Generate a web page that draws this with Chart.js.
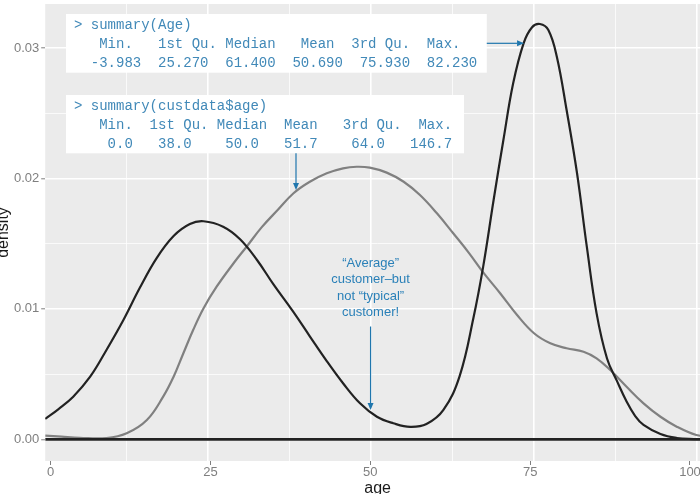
<!DOCTYPE html>
<html><head><meta charset="utf-8">
<script src="https://cdn.jsdelivr.net/npm/chart.js@4/dist/chart.umd.min.js"></script>
<style>
html,body{margin:0;padding:0;background:#fff;overflow:hidden;width:700px;height:494px;position:relative;}
#wrap{position:absolute;left:-10px;top:0;width:720px;height:498px;}
</style></head><body>
<div id="wrap"><canvas id="c" width="720" height="498"></canvas></div>
<script>
// ---- data ----
const ageX = [0, 2, 4.3, 6.9, 9.4, 12.0, 14.5, 17.1, 19.7, 22.2, 24.3, 27.3, 29.9, 32.5, 35.0, 38.1, 40.6, 43.2, 45.7, 48.3, 50.9, 53.4, 56.0, 58.5, 61.1, 63.6, 65.7, 67.2, 68.8, 70.3, 71.8, 73.4, 74.7, 75.9, 77.2, 78.5, 80.0, 81.6, 83.1, 84.6, 86.2, 87.7, 89.2, 90.5, 91.8, 94.4, 96.9, 99.5, 102];
const ageDensity = [0.00156, 0.0023, 0.00327, 0.0048, 0.00685, 0.00915, 0.0116, 0.0139, 0.01559, 0.01651, 0.01672, 0.0163, 0.01534, 0.01375, 0.0119, 0.00975, 0.0079, 0.006, 0.0043, 0.00276, 0.00173, 0.00123, 0.00095, 0.00117, 0.00225, 0.00487, 0.0093, 0.01324, 0.01835, 0.02295, 0.0273, 0.03037, 0.0316, 0.03185, 0.03139, 0.02934, 0.02525, 0.0204, 0.01477, 0.00966, 0.0062, 0.0045, 0.0029, 0.0018, 0.0011, 0.0004, 0.0001, 0.00002, 0];
const custX = [0, 2.5, 5.3, 9.4, 12.5, 15.6, 18.1, 19.7, 21.2, 22.7, 24.3, 26.3, 28.9, 30.9, 33.2, 35.7, 38.1, 40.6, 43.2, 45.7, 47.8, 49.8, 52.4, 55.0, 57.5, 60.1, 62.6, 65.0, 67.2, 69.8, 72.4, 75.0, 77.5, 80.0, 82.6, 84.6, 86.7, 89.2, 91.8, 94.4, 96.9, 99.9, 102];
const custDensity = [0.00028, 0.0002, 0.00012, 0.0001, 0.00046, 0.00148, 0.00327, 0.0048, 0.0066, 0.00838, 0.01005, 0.0117, 0.0135, 0.01477, 0.01625, 0.0176, 0.01887, 0.01975, 0.0204, 0.02078, 0.0209, 0.02083, 0.02045, 0.01975, 0.01873, 0.01733, 0.0158, 0.0143, 0.0128, 0.0112, 0.00953, 0.00813, 0.00736, 0.00698, 0.00672, 0.00621, 0.00531, 0.00403, 0.00276, 0.00173, 0.00097, 0.00033, 0.0002];
const xTickValues = [0, 25, 50, 75, 100];
const xTickLabels = ['0', '25', '50', '75', '100'];
const yTickValues = [0, 0.01, 0.02, 0.03];
const yTickLabels = ['0.00', '0.01', '0.02', '0.03'];
const summaryAgeLines = [
  '> summary(Age)',
  '   Min.   1st Qu. Median   Mean  3rd Qu.  Max.',
  '  -3.983  25.270  61.400  50.690  75.930  82.230'
];
const summaryCustLines = [
  '> summary(custdata$age)',
  '   Min.  1st Qu. Median  Mean   3rd Qu.  Max.',
  '    0.0   38.0    50.0   51.7    64.0   146.7'
];
const calloutLines = ['\u201CAverage\u201D', 'customer\u2013but', 'not \u201Ctypical\u201D', 'customer!'];

// ---- axis ranges ----
const xMin = 0, xMax = 102;
const xLabelMin = -0.86, xLabelMax = 103.13;
const yMin = -0.001664, yMax = 0.033382;

const midpoints = a => a.slice(0, -1).map((v, i) => (v + a[i + 1]) / 2);
const xGridValues = [...xTickValues, ...midpoints(xTickValues)].filter(v => v > xMin && v < xMax).sort((a, b) => a - b);
const yGridValues = [...yTickValues, ...midpoints(yTickValues)].filter(v => v > yMin && v < yMax).sort((a, b) => a - b);
const isMajor = (v, arr) => arr.some(t => Math.abs(t - v) < 1e-9);

const CODE = '#4189b8', NOTE = '#2a80b8', ARROW = '#1f76ad';

const annotations = {
  boxes: [
    { x0: 3.19, x1: 67.75, yTop: 0.032615, yBottom: 0.028113, textX: 4.42, baselines: [0.031449, 0.030023, 0.028589], lines: summaryAgeLines },
    { x0: 3.19, x1: 64.26, yTop: 0.026403, yBottom: 0.021933, textX: 4.42, baselines: [0.025238, 0.023811, 0.022377], lines: summaryCustLines }
  ],
  arrows: [
    { from: [67.75, 0.030368], to: [73.47, 0.030368] },
    { from: [38.48, 0.021933], to: [38.48, 0.019118] },
    { from: [49.92, 0.00865], to: [49.92, 0.002247] }
  ],
  callout: { x: 49.92, middles: [0.013497, 0.01227, 0.010989, 0.009762] }
};

const panelPlugin = {
  id: 'panel',
  beforeDraw(chart) {
    const { ctx, chartArea: a } = chart;
    ctx.save();
    ctx.fillStyle = '#ffffff';
    ctx.fillRect(0, 0, chart.width, chart.height);
    ctx.fillStyle = '#ebebeb';
    ctx.fillRect(a.left, a.top, a.right - a.left, a.bottom - a.top);
    ctx.restore();
  }
};

function arrow(ctx, x1, y1, x2, y2) {
  const ang = Math.atan2(y2 - y1, x2 - x1);
  const L = 7, W = 3;
  ctx.beginPath();
  ctx.moveTo(x1, y1);
  ctx.lineTo(x2 - L * Math.cos(ang), y2 - L * Math.sin(ang));
  ctx.stroke();
  ctx.beginPath();
  ctx.moveTo(x2, y2);
  ctx.lineTo(x2 - L * Math.cos(ang) - W * Math.sin(ang), y2 - L * Math.sin(ang) + W * Math.cos(ang));
  ctx.lineTo(x2 - L * Math.cos(ang) + W * Math.sin(ang), y2 - L * Math.sin(ang) - W * Math.cos(ang));
  ctx.closePath();
  ctx.fill();
}

const annotPlugin = {
  id: 'annot',
  afterDatasetsDraw(chart) {
    const { ctx } = chart;
    const x = chart.scales.x, y = chart.scales.y;
    ctx.save();
    for (const b of annotations.boxes) {
      const px0 = x.getPixelForValue(b.x0), px1 = x.getPixelForValue(b.x1);
      const py0 = y.getPixelForValue(b.yTop), py1 = y.getPixelForValue(b.yBottom);
      ctx.fillStyle = '#ffffff';
      ctx.fillRect(px0, py0, px1 - px0, py1 - py0);
      ctx.fillStyle = CODE;
      ctx.font = "14px 'Liberation Mono', 'DejaVu Sans Mono', monospace";
      ctx.textAlign = 'left';
      ctx.textBaseline = 'alphabetic';
      b.lines.forEach((t, i) => ctx.fillText(t, x.getPixelForValue(b.textX), y.getPixelForValue(b.baselines[i])));
    }
    ctx.strokeStyle = ARROW;
    ctx.fillStyle = ARROW;
    ctx.lineWidth = 1.2;
    for (const a of annotations.arrows) {
      arrow(ctx, x.getPixelForValue(a.from[0]), y.getPixelForValue(a.from[1]), x.getPixelForValue(a.to[0]), y.getPixelForValue(a.to[1]));
    }
    ctx.fillStyle = NOTE;
    ctx.font = "13px 'Liberation Sans', Arial, sans-serif";
    ctx.textAlign = 'center';
    ctx.textBaseline = 'middle';
    const c = annotations.callout;
    calloutLines.forEach((t, i) => ctx.fillText(t, x.getPixelForValue(c.x), y.getPixelForValue(c.middles[i])));
    ctx.restore();
  }
};

Chart.defaults.font.family = "'Liberation Sans', Arial, Helvetica, sans-serif";

new Chart(document.getElementById('c'), {
  type: 'line',
  data: {
    datasets: [
      { label: 'baseline', data: [{ x: xMin, y: 0 }, { x: xMax, y: 0 }], borderColor: '#222222', borderWidth: 2.8, pointRadius: 0, clip: 0, xAxisID: 'x', yAxisID: 'y' },
      { label: 'Age', data: ageX.map((v, i) => ({ x: v, y: ageDensity[i] })), borderColor: '#222222', borderWidth: 2.2, pointRadius: 0, tension: 0.4, clip: 0, xAxisID: 'x', yAxisID: 'y' },
      { label: 'custdata$age', data: custX.map((v, i) => ({ x: v, y: custDensity[i] })), borderColor: '#808080', borderWidth: 2.2, pointRadius: 0, tension: 0.4, clip: 0, xAxisID: 'x', yAxisID: 'y' }
    ]
  },
  options: {
    responsive: false,
    animation: false,
    devicePixelRatio: 1,
    layout: { padding: { top: 4, left: 0, right: 0, bottom: 0 } },
    plugins: { legend: { display: false }, tooltip: { enabled: false } },
    scales: {
      x: {
        type: 'linear', position: 'top', min: xMin, max: xMax,
        afterBuildTicks: s => { s.ticks = xGridValues.map(v => ({ value: v })); },
        ticks: { display: false },
        border: { display: false },
        grid: {
          drawTicks: false,
          color: ctx => isMajor(ctx.tick.value, xTickValues) ? '#ffffff' : 'rgba(255,255,255,0.85)',
          lineWidth: ctx => isMajor(ctx.tick.value, xTickValues) ? 1.6 : 0.9
        },
        afterFit: s => { s.height = 0; s.paddingLeft = 0; s.paddingRight = 0; }
      },
      xl: {
        type: 'linear', position: 'bottom', min: xLabelMin, max: xLabelMax,
        afterBuildTicks: s => { s.ticks = xTickValues.map(v => ({ value: v })); },
        ticks: {
          color: '#7f7f7f', font: { size: 13 }, padding: 0, maxRotation: 0, autoSkip: false,
          callback: v => { const i = xTickValues.findIndex(t => Math.abs(t - v) < 1e-9); return i >= 0 ? xTickLabels[i] : ''; }
        },
        grid: { drawOnChartArea: false, drawTicks: true, tickLength: 4, tickColor: '#7f7f7f', tickWidth: 1 },
        border: { display: false },
        title: { display: true, text: 'age', font: { size: 16 }, color: '#1a1a1a', padding: 0 },
        afterFit: s => { s.height = 37; s.paddingLeft = 0; s.paddingRight = 0; }
      },
      y: {
        type: 'linear', position: 'left', min: yMin, max: yMax,
        afterBuildTicks: s => { s.ticks = yGridValues.map(v => ({ value: v })); },
        ticks: {
          color: '#7f7f7f', font: { size: 13 }, padding: 2, autoSkip: false,
          callback: v => { const i = yTickValues.findIndex(t => Math.abs(t - v) < 1e-9); return i >= 0 ? yTickLabels[i] : ''; }
        },
        grid: {
          color: ctx => isMajor(ctx.tick.value, yTickValues) ? '#ffffff' : 'rgba(255,255,255,0.85)',
          lineWidth: ctx => isMajor(ctx.tick.value, yTickValues) ? 1.6 : 0.9,
          tickLength: 4,
          tickColor: ctx => isMajor(ctx.tick.value, yTickValues) ? '#7f7f7f' : 'rgba(0,0,0,0)',
          tickWidth: 1
        },
        border: { display: false },
        title: { display: true, text: 'density', font: { size: 16 }, color: '#1a1a1a', padding: { top: 4, bottom: 0 } },
        afterFit: s => { s.width = 55.2; s.paddingTop = 0; s.paddingBottom = 0; }
      }
    }
  },
  plugins: [panelPlugin, annotPlugin]
});
</script>
</body></html>
